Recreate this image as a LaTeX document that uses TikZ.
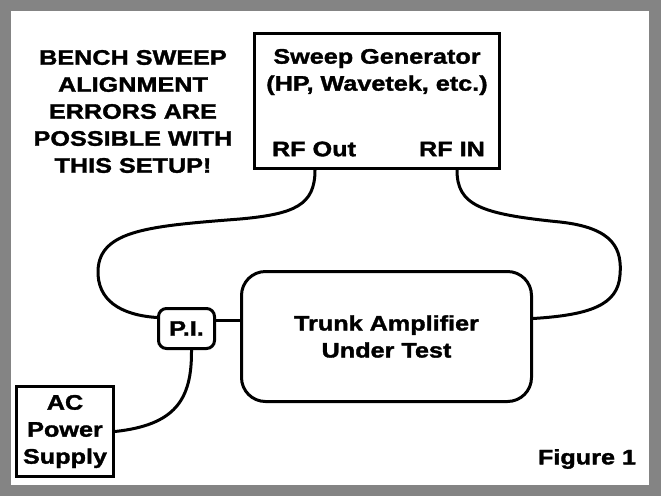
\documentclass[tikz,border=0pt]{standalone}
\usepackage{fontspec}
\setmainfont{Liberation Sans}[FakeStretch=1.2,FakeBold=1.6]
\usetikzlibrary{calc}
\definecolor{framegray}{RGB}{132,132,132}

\begin{document}
\begin{tikzpicture}[
  x=1pt,y=-1pt,
  font=\fontsize{21}{27}\selectfont\bfseries,
  box/.style={rectangle,draw=black,line width=3pt,inner sep=0pt,align=center},
  rbox/.style={box,rounded corners=24pt},
  lbl/.style={align=center,inner sep=0pt},
  wire/.style={line width=3pt,black},
]
% ===== frame =====
\useasboundingbox (0,0) rectangle (661,496);
\fill[framegray] (0,0) rectangle (661,496);
\fill[white] (11,11) rectangle (649,485);

% ===== instruments =====
\node[box,minimum width=245pt,minimum height=135pt] (sweep) at (377,101) {};
\node[lbl] (sgtitle) at (377,72) {Sweep Generator\\(HP, Wavetek, etc.)};
\node[lbl] (rfout) at (314,149) {RF Out};
\node[lbl] (rfin) at (452,149) {RF IN};

\node[rbox,minimum width=290pt,minimum height=130pt] (trunk) at (386.5,336.5)
  {Trunk Amplifier\\Under Test};
\node[box,rounded corners=8pt,minimum width=56pt,minimum height=40pt] (pi) at (186.5,328.5) {P.I.};
\node[box,minimum width=97pt,minimum height=90pt] (ac) at (65,431.5) {AC\\Power\\Supply};

\node[lbl] (warn) at (133,111.5)
  {BENCH SWEEP\\ALIGNMENT\\ERRORS ARE\\POSSIBLE WITH\\THIS SETUP!};
\node[lbl] (fig) at (587,459) {Figure 1};

% ===== cables =====
\draw[wire] ([xshift=1pt]rfout.south |- sweep.south)
  .. controls (315,205) and (295,214) .. (240,219)
  .. controls (150,226) and (100,230) .. (98,270)
  .. controls (97,300) and (120,315) .. ([yshift=11pt]pi.west);
\draw[wire] ([xshift=5pt]rfin.south |- sweep.south)
  .. controls (457,205) and (480,214) .. (560,222)
  .. controls (615,228) and (622,250) .. (620,275)
  .. controls (618,305) and (590,315) .. ([yshift=18pt]trunk.east);
\draw[wire] ([yshift=8pt]pi.east) -- ([yshift=8pt]pi.east -| trunk.west);
\draw[wire] (ac.east) .. controls (175,425) and (192,400) .. ([xshift=5pt]pi.south);
\end{tikzpicture}
\end{document}
